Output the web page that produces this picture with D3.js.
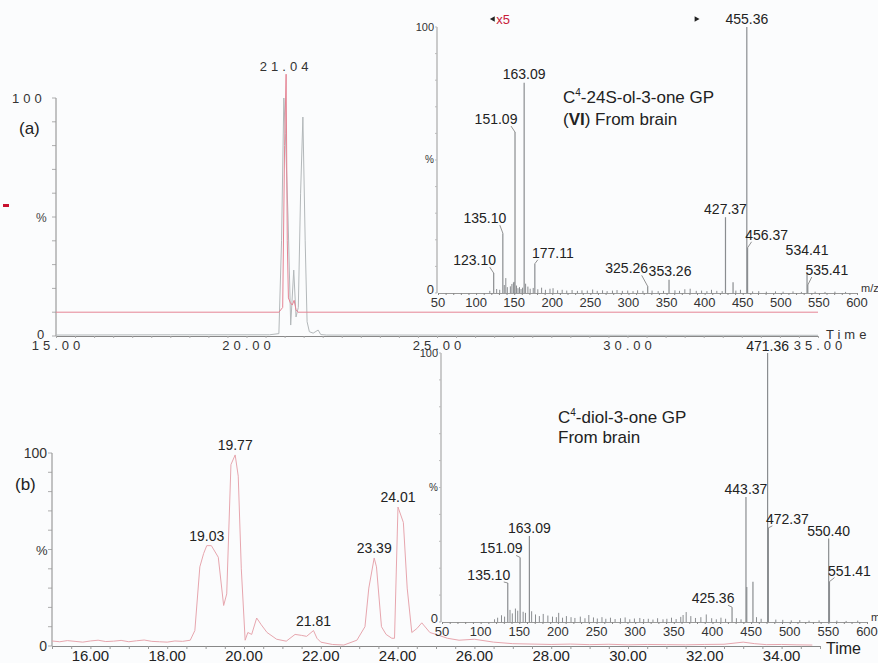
<!DOCTYPE html>
<html>
<head>
<meta charset="utf-8">
<script src="https://cdnjs.cloudflare.com/ajax/libs/d3/7.8.5/d3.min.js"></script>
<style>
  body { margin: 0; background: #fbfcfd; }
  svg { display: block; font-family: "Liberation Sans", Arial, sans-serif; }
  .sp { letter-spacing: 4px; font-size: 13px; fill: #333; }
  .lbl { font-size: 14px; fill: #222; }
  .tk { font-size: 13px; fill: #333; }
</style>
</head>
<body>
<svg id="chart" width="878" height="663"></svg>
<script>
// ---- panel (a) chromatogram: grey and red traces (% vs min)
var chromA_t    = [15.0, 18.0, 20.6, 20.85, 20.92, 20.98, 21.02, 21.09, 21.16, 21.24, 21.3, 21.36, 21.42, 21.48, 21.54, 21.59, 21.65, 21.75, 21.88, 21.95, 22.1, 25.0, 30.0, 35.0];
var chromA_grey = [0.4, 0.5, 0.5, 1.0, 40, 100, 85, 50, 4.6, 27.7, 8, 12, 60, 92, 40, 6, 1.8, 1.2, 2.5, 0.6, 0.4, 0.4, 0.3, 0.3];
var chromA_redT = [15.0, 20.85, 20.95, 21.0, 21.04, 21.07, 21.1, 21.15, 21.2, 21.25, 21.3, 21.35, 35.0];
var chromA_red  = [10, 10, 12, 80, 110, 40, 16, 14, 13, 15, 11, 10, 10];
var chromA_xTicks = [15, 20, 25, 30, 35];

// ---- panel (b) chromatogram
var chromB_t = [15.0, 15.2, 15.4, 15.6, 15.8, 16.0, 16.2, 16.4, 16.6, 16.8, 17.0, 17.2, 17.4, 17.6, 17.8, 18.0, 18.2, 18.4, 18.6,
  18.72, 18.85, 18.95, 19.03, 19.15, 19.33, 19.47, 19.55, 19.66, 19.77, 19.85, 19.93, 20.03, 20.1, 20.2, 20.33, 20.45, 20.6,
  20.85, 21.1, 21.33, 21.5, 21.63, 21.81, 21.9, 22.0, 22.3, 22.6, 22.94, 23.15, 23.25, 23.39, 23.45, 23.58, 23.7, 23.85, 23.92,
  24.01, 24.15, 24.25, 24.37, 24.5, 24.63, 24.84, 25.0, 25.3, 25.6, 26.0, 26.5, 27.0, 27.5, 28.0, 28.5, 29.0, 29.5, 30.0, 30.5,
  31.0, 31.5, 32.0, 32.5, 33.0, 33.3, 33.6, 34.0, 34.4, 34.8];
var chromB_int = [2.6, 2.2, 2.8, 2.4, 2.0, 2.6, 3.0, 2.3, 2.5, 2.9, 2.2, 2.7, 3.1, 2.4, 2.2, 2.0, 2.6, 2.4, 3.0,
  8, 41, 48, 52, 52, 46, 21, 27, 94, 99, 88, 40, 3, 7, 6, 14.5, 11, 7,
  3.5, 2.5, 6, 5.5, 5, 8, 4, 2, 0.8, 0.5, 3, 10, 30, 45.6, 41, 10, 6, 4, 4,
  72, 64, 30, 7, 9, 12, 7, 6, 4, 3, 3.5, 2, 1.2, 1.0, 0.8, 1.0, 0.7, 0.9, 0.6, 0.8,
  0.7, 0.6, 0.8, 0.9, 2.0, 1.2, 0.7, 0.8, 0.6, 0.5];
var chromB_peaks = [19.03, 19.77, 21.81, 23.39, 24.01];
var chromB_xTicks = [16, 18, 20, 22, 24, 26, 28, 30, 32, 34];

// ---- inset spectra (m/z, %)
var specA_mz  = [123.10, 135.10, 151.09, 163.09, 177.11, 325.26, 353.26, 427.37, 437.3, 455.36, 456.37, 534.41, 535.41];
var specA_int = [7.5, 22.5, 60.5, 79, 11, 2.5, 5, 28.5, 4, 100, 17, 7.5, 3];
var specA_noiseMz  = [118, 127, 131, 137, 139, 141, 145, 147, 149, 150, 153, 155, 157, 159, 161, 165, 168, 171, 175, 181, 186, 191, 197, 201, 207, 213, 219, 226, 233, 239, 246, 253, 259, 266, 272, 279, 285, 292, 299, 306, 312, 319, 331, 339, 346, 361, 367, 374, 381, 389, 396, 403, 409, 416, 423, 441, 447, 463, 471, 481, 493, 503, 516, 527, 545, 558, 571, 585];
var specA_noise    = [0.8, 1.5, 1.2, 3.0, 5.6, 2.2, 2.5, 3.4, 4.0, 4.2, 2.8, 1.8, 2.2, 1.5, 2.0, 3.5, 2.4, 1.6, 1.9, 1.4, 2.0, 1.2, 1.6, 1.8, 1.0, 1.2, 0.9, 1.1, 0.8, 1.0, 0.9, 1.3, 0.8, 1.0, 0.7, 0.9, 1.1, 0.8, 0.9, 0.7, 1.0, 0.8, 0.9, 0.7, 0.8, 1.0, 0.8, 1.4, 1.6, 0.8, 0.9, 0.7, 1.2, 0.8, 0.7, 0.9, 1.2, 0.6, 0.7, 0.5, 0.6, 0.5, 0.6, 0.4, 0.5, 0.4, 0.5, 0.4];

var specB_mz  = [135.10, 151.09, 163.09, 425.36, 443.37, 444.4, 452.4, 471.36, 472.37, 550.40, 551.41];
var specB_int = [14.5, 24, 32, 5.5, 46.5, 13, 15, 100, 35, 31, 15];
var specB_noiseMz  = [118, 122, 127, 131, 138, 141, 145, 148, 155, 158, 166, 171, 176, 181, 187, 193, 198, 201, 206, 211, 217, 222, 229, 235, 240, 246, 251, 257, 262, 268, 274, 281, 287, 293, 299, 306, 311, 317, 323, 329, 336, 341, 347, 353, 359, 362, 366, 372, 378, 385, 392, 399, 405, 411, 417, 431, 437, 457, 463, 482, 491, 502, 513, 525, 538, 561, 573, 588];
var specB_noise    = [1.0, 1.6, 2.5, 2.0, 4.5, 3.2, 5.0, 4.2, 3.8, 3.4, 4.0, 2.8, 2.2, 3.0, 2.4, 2.0, 1.8, 3.4, 1.6, 2.2, 1.8, 1.5, 2.0, 1.4, 2.6, 1.7, 1.3, 1.8, 1.2, 1.6, 1.1, 1.4, 1.7, 1.0, 1.3, 1.5, 1.1, 1.2, 0.9, 1.4, 1.0, 1.2, 1.6, 1.1, 1.9, 2.6, 3.7, 2.2, 1.5, 1.8, 2.8, 1.4, 1.0, 1.6, 1.2, 1.4, 1.0, 1.8, 1.2, 0.9, 0.8, 0.6, 0.7, 0.5, 0.6, 0.5, 0.4, 0.5];

var specXTicks = [50, 100, 150, 200, 250, 300, 350, 400, 450, 500, 550, 600];

var svg = d3.select("#chart");

// scales
var xA = d3.scaleLinear().domain([15, 35]).range([56, 818]);
var yA = d3.scaleLinear().domain([0, 100]).range([336, 98]);
var xB = d3.scaleLinear().domain([15, 35]).range([52, 820]);
var yB = d3.scaleLinear().domain([0, 100]).range([646, 453]);
var sxA = d3.scaleLinear().domain([50, 600]).range([438, 857]);
var syA = d3.scaleLinear().domain([0, 100]).range([293, 27]);
var sxB = d3.scaleLinear().domain([50, 600]).range([442, 867]);
var syB = d3.scaleLinear().domain([0, 100]).range([622, 353]);

function yAxisTicks(x0, y, step, len) {
  var g = svg.append("g");
  g.append("line").attr("x1", x0).attr("x2", x0).attr("y1", y(0)).attr("y2", y(100))
    .attr("stroke", "#888").attr("stroke-width", 1);
  g.selectAll("line.t").data(d3.range(0, 101, step)).enter().append("line")
    .attr("x1", x0 - len).attr("x2", x0).attr("y1", function(d){ return y(d); }).attr("y2", function(d){ return y(d); })
    .attr("stroke", "#999").attr("stroke-width", 0.8);
}

// ================= panel (a) chromatogram
yAxisTicks(xA(15), yA, 10, 4);

svg.append("g")
  .attr("transform", "translate(0," + yA(0) + ")")
  .call(d3.axisBottom(xA).tickValues(d3.range(15, 35.01, 0.5)).tickSize(2).tickFormat(""))
  .call(function(g){ g.select(".domain").attr("stroke", "#888"); g.selectAll(".tick line").attr("stroke", "#aaa"); });

svg.selectAll("text.xa").data(chromA_xTicks).enter().append("text")
  .attr("class", "sp").attr("x", function(d){ return xA(d) + 2; }).attr("y", 350)
  .attr("text-anchor", "middle").text(function(d){ return d.toFixed(2); });

svg.append("text").attr("class", "sp").attr("x", 12).attr("y", 103).text("100");
svg.append("text").attr("class", "sp").attr("x", 37).attr("y", 339).text("0");
svg.append("text").attr("x", 36).attr("y", 222).attr("font-size", 12).attr("fill", "#444").text("%");
svg.append("text").attr("x", 19).attr("y", 134).attr("font-size", 17).attr("fill", "#222").text("(a)");
svg.append("rect").attr("x", 3).attr("y", 204).attr("width", 6).attr("height", 3).attr("fill", "#c8102e");
svg.append("text").attr("class", "sp").attr("x", 826).attr("y", 339).text("Time");

svg.append("path")
  .datum(d3.zip(chromA_t, chromA_grey))
  .attr("d", d3.line().x(function(d){ return xA(d[0]); }).y(function(d){ return yA(d[1]); }))
  .attr("fill", "none").attr("stroke", "#b3b8ba").attr("stroke-width", 1);
svg.append("path")
  .datum(d3.zip(chromA_redT, chromA_red))
  .attr("d", d3.line().x(function(d){ return xA(d[0]); }).y(function(d){ return yA(d[1]); }))
  .attr("fill", "none").attr("stroke", "#e58494").attr("stroke-width", 1);

svg.append("text").attr("class", "sp").attr("x", xA(21.04)).attr("y", 71)
  .attr("text-anchor", "middle").text("21.04");

// ================= panel (b) chromatogram
yAxisTicks(xB(15), yB, 10, 4);
svg.append("g")
  .attr("transform", "translate(0," + yB(0) + ")")
  .call(d3.axisBottom(xB).tickValues(d3.range(15, 35.01, 0.5)).tickSize(3).tickFormat(""))
  .call(function(g){ g.select(".domain").attr("stroke", "#888"); g.selectAll(".tick line").attr("stroke", "#999"); });
svg.selectAll("text.xb").data(chromB_xTicks).enter().append("text")
  .attr("font-size", 15).attr("fill", "#222").attr("x", function(d){ return xB(d); }).attr("y", 661)
  .attr("text-anchor", "middle").text(function(d){ return d.toFixed(2); });
svg.append("text").attr("x", 826).attr("y", 654).attr("font-size", 16).attr("fill", "#222").text("Time");

svg.append("text").attr("x", 47).attr("y", 458).attr("text-anchor", "end").attr("font-size", 14).attr("fill", "#333").text("100");
svg.append("text").attr("x", 47).attr("y", 651).attr("text-anchor", "end").attr("font-size", 14).attr("fill", "#333").text("0");
svg.append("text").attr("x", 36).attr("y", 555).attr("font-size", 13).attr("fill", "#333").text("%");
svg.append("text").attr("x", 15).attr("y", 490).attr("font-size", 17).attr("fill", "#222").text("(b)");

svg.append("path")
  .datum(d3.zip(chromB_t, chromB_int))
  .attr("d", d3.line().x(function(d){ return xB(d[0]); }).y(function(d){ return yB(d[1]); }))
  .attr("fill", "none").attr("stroke", "#e7a6ae").attr("stroke-width", 1);

svg.selectAll("text.pb").data(chromB_peaks).enter().append("text")
  .attr("class", "lbl").attr("text-anchor", "middle")
  .attr("x", function(d){ return xB(d); })
  .attr("y", function(d){
    var i = chromB_t.indexOf(d);
    return yB(chromB_int[i]) - 5;
  })
  .text(function(d){ return d.toFixed(2); });

// ================= inset spectra
// label offsets (layout only): [dx, dy from peak top]; leader drawn when offset sideways
var nudgeA = {"123.10": [-19, -8], "135.10": [-18, -10], "151.09": [-19, -8], "163.09": [0, -4], "177.11": [18, -6],
  "325.26": [-21, -13], "353.26": [1, -4], "427.37": [0, -3], "455.36": [0, -3], "456.37": [19, -8],
  "534.41": [0, -18], "535.41": [19, -10]};
var nudgeB = {"135.10": [-19, -3], "151.09": [-19, -4], "163.09": [0, -3], "425.36": [-19, -4], "443.37": [0, -3],
  "471.36": [0, -2], "472.37": [19, -4], "550.40": [0, -3], "551.41": [20, -6]};

function drawSpectrum(sx, sy, mz, inten, noiseMz, noise, nudge, labelled) {
  var g = svg.append("g");
  g.append("line").attr("x1", sx(50) - 1).attr("x2", sx(50) - 1).attr("y1", sy(0)).attr("y2", sy(100))
    .attr("stroke", "#999");
  g.selectAll("line.yt").data(d3.range(0, 101, 10)).enter().append("line")
    .attr("x1", sx(50) - 3).attr("x2", sx(50) - 1)
    .attr("y1", function(d){ return sy(d); }).attr("y2", function(d){ return sy(d); })
    .attr("stroke", "#bbb");
  g.append("g").attr("transform", "translate(0," + sy(0) + ")")
    .call(d3.axisBottom(sx).tickValues(d3.range(50, 601, 10)).tickSize(2).tickFormat(""))
    .call(function(a){ a.select(".domain").attr("stroke", "#999"); a.selectAll(".tick line").attr("stroke", "#888"); });
  g.selectAll("text.xt").data(specXTicks).enter().append("text")
    .attr("class", "tk").attr("x", function(d){ return sx(d); }).attr("y", sy(0) + 14)
    .attr("text-anchor", "middle").text(function(d){ return d; });
  g.append("text").attr("class", "tk").attr("x", sx(50) - 4).attr("y", sy(0) + 1).attr("text-anchor", "end").attr("font-size", 12).text("0");
  g.append("text").attr("x", sx(50) - 4).attr("y", sy(100) + 4).attr("text-anchor", "end").attr("font-size", 11).attr("fill", "#333").text("100");
  g.append("text").attr("x", sx(50) - 4).attr("y", sy(50) + 3).attr("text-anchor", "end").attr("font-size", 10).attr("fill", "#333").text("%");
  g.append("text").attr("x", sx(600) + 4).attr("y", sy(0) - 1).attr("font-size", 11).attr("fill", "#333").text("m/z");

  g.selectAll("line.nz").data(d3.zip(noiseMz, noise)).enter().append("line")
    .attr("x1", function(d){ return sx(d[0]); }).attr("x2", function(d){ return sx(d[0]); })
    .attr("y1", sy(0)).attr("y2", function(d){ return sy(d[1]); })
    .attr("stroke", "#8a8d90").attr("stroke-width", 1);
  var pk = d3.zip(mz, inten);
  g.selectAll("line.pk").data(pk).enter().append("line")
    .attr("x1", function(d){ return sx(d[0]); }).attr("x2", function(d){ return sx(d[0]); })
    .attr("y1", sy(0)).attr("y2", function(d){ return sy(d[1]); })
    .attr("stroke", "#8a8d90").attr("stroke-width", 1.2);
  var lab = pk.filter(function(d){ return labelled.indexOf(d[0]) >= 0; });
  lab.forEach(function(d){
    var key = d[0].toFixed(2), n = nudge[key] || [0, -3];
    var px = sx(d[0]), py = sy(d[1]);
    var tx = px + n[0], ty = py + n[1];
    g.append("text").attr("class", "lbl").attr("x", tx).attr("y", ty).attr("text-anchor", "middle").text(key);
    if (Math.abs(n[0]) > 4) {
      var lx = n[0] < 0 ? tx + 15 : tx - 15;
      g.append("line").attr("x1", lx).attr("y1", ty + 2).attr("x2", px).attr("y2", py)
        .attr("stroke", "#777").attr("stroke-width", 0.8);
    }
  });
  return g;
}

drawSpectrum(sxA, syA, specA_mz, specA_int, specA_noiseMz, specA_noise, nudgeA,
  [123.10, 135.10, 151.09, 163.09, 177.11, 325.26, 353.26, 427.37, 455.36, 456.37, 534.41, 535.41]);
drawSpectrum(sxB, syB, specB_mz, specB_int, specB_noiseMz, specB_noise, nudgeB,
  [135.10, 151.09, 163.09, 425.36, 443.37, 471.36, 472.37, 550.40, 551.41]);

// magnification marker on spectrum (a)
svg.append("path").attr("d", d3.symbol(d3.symbolTriangle, 14)()).attr("fill", "#222")
  .attr("transform", "translate(" + (sxA(125) - 2) + ",19) rotate(-90)");
svg.append("text").attr("x", sxA(125) + 1).attr("y", 24).attr("font-size", 13).attr("fill", "#c8203a").text("x5");
svg.append("path").attr("d", d3.symbol(d3.symbolTriangle, 14)()).attr("fill", "#222")
  .attr("transform", "translate(" + sxA(389) + ",19) rotate(90)");

// compound names
var tA = svg.append("text").attr("x", 563).attr("y", 103).attr("font-size", 17).attr("fill", "#222");
tA.append("tspan").text("C");
tA.append("tspan").attr("font-size", 10).attr("dy", -7).text("4");
tA.append("tspan").attr("dy", 7).text("-24S-ol-3-one GP");
var tA2 = svg.append("text").attr("x", 563).attr("y", 125).attr("font-size", 17).attr("fill", "#222");
tA2.append("tspan").text("(");
tA2.append("tspan").attr("font-weight", "bold").text("VI");
tA2.append("tspan").text(") From brain");

var tB = svg.append("text").attr("x", 558).attr("y", 423).attr("font-size", 17).attr("fill", "#222");
tB.append("tspan").text("C");
tB.append("tspan").attr("font-size", 10).attr("dy", -7).text("4");
tB.append("tspan").attr("dy", 7).text("-diol-3-one GP");
svg.append("text").attr("x", 558).attr("y", 443).attr("font-size", 17).attr("fill", "#222").text("From brain");
</script>
</body>
</html>
